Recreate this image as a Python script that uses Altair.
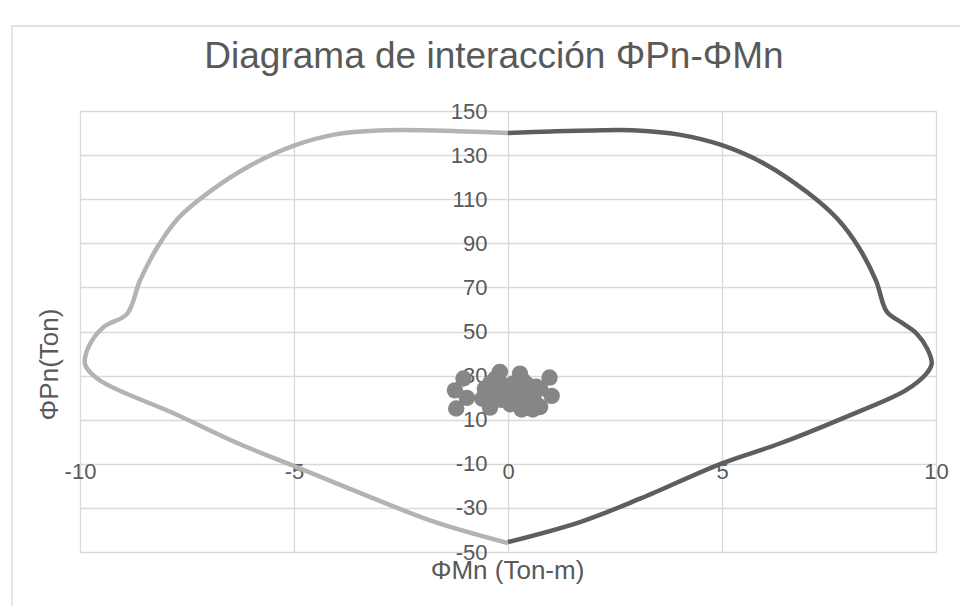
import altair as alt
import pandas as pd

# ---- data ----
right_M = [0, 1, 2, 3, 4, 5, 6, 7, 7.7, 8.2, 8.6, 8.85, 9.2, 9.55, 9.8, 9.9, 9.78, 9.3, 7.9, 6.35, 5.0, 3.1, 1.7, 0]
right_P = [140, 140.7, 141.2, 141.2, 139.3, 134.5, 126, 113, 101, 88, 73, 59, 54, 49, 42, 35.5, 31, 23.4, 11.3, -0.8, -9.8, -25.7, -36.3, -45.5]

left_M = [0, -1, -2, -3, -4, -5, -6, -7, -7.7, -8.2, -8.6, -8.9, -9.45, -9.8, -9.88, -9.55, -7.8, -6.3, -5.0, -3.1, -1.7, 0]
left_P = [140, 140.7, 141.3, 141.2, 139.5, 134.3, 125.5, 113, 101.5, 88, 73, 58, 52, 43, 35, 28, 12.8, -0.8, -11, -26, -36.5, -46]

pts_M = [-1.24, -1.04, -0.96, -1.21, -0.19, 0.28, 0.97, 1.02, 0.75, 0.58, 0.32, -0.42, -0.54,
         0.75, 0.47, 0.12, -0.03, 0.2, -0.26, 0.44, -0.42, -0.12, 0.09, 0.58,
         -0.35, 0.05, 0.3, 0.62, -0.15, 0.15, 0.36, -0.3, 0.66, -0.6]
pts_P = [23.3, 28.7, 19.9, 15.1, 31.7, 30.9, 29.1, 20.8, 15.8, 14.6, 14.6, 15.5, 24.1,
         24.1, 25.6, 26.4, 20.3, 18.8, 20.3, 18.1, 26.4, 25.6, 22.6, 21.1,
         22.0, 17.0, 22.0, 18.2, 19.0, 24.0, 27.5, 28.6, 25.0, 19.5]

x_ticks = [-10, -5, 0, 5, 10]
y_ticks = [-50, -30, -10, 10, 30, 50, 70, 90, 110, 130, 150]

title_text = "Diagrama de interacción ΦPn-ΦMn"
x_title = "ΦMn (Ton-m)"
y_title = "ΦPn(Ton)"

# ---- table ----
rows = []
for i, (m, p) in enumerate(zip(left_M, left_P)):
    rows.append({"M": m, "P": p, "kind": "left", "ord": i})
for i, (m, p) in enumerate(zip(right_M, right_P)):
    rows.append({"M": m, "P": p, "kind": "right", "ord": i})
for i, (m, p) in enumerate(zip(pts_M, pts_P)):
    rows.append({"M": m, "P": p, "kind": "pts", "ord": i})
df = pd.DataFrame(rows)

W = 856
H = 441
FONT = "Liberation Sans"
TXT = "#595959"
GRID = "#d9d9d9"

x_enc = alt.X(
    "M:Q",
    scale=alt.Scale(domain=[-10, 10], nice=False, zero=False),
    axis=alt.Axis(
        values=x_ticks, grid=True, gridColor=GRID, gridWidth=1.3,
        domain=False, ticks=False, labelFlush=False, labelOverlap=False,
        labelExpr="toString(datum.value)",
        labelFont=FONT, labelFontSize=22, labelColor=TXT, labelPadding=-2,
        offset=-(H * 40 / 200),
        title=x_title, titleFont=FONT, titleFontSize=26, titleColor=TXT,
        titleFontWeight="normal", titleX=W / 2 - 1, titleY=107,
        titleAlign="center", titleBaseline="middle",
    ),
)
y_enc = alt.Y(
    "P:Q",
    scale=alt.Scale(domain=[-50, 150], nice=False, zero=False),
    axis=alt.Axis(
        values=y_ticks, grid=True, gridColor=GRID, gridWidth=1.3,
        domain=False, ticks=False, labelFlush=False, labelOverlap=False,
        labelExpr="toString(datum.value)",
        labelFont=FONT, labelFontSize=22, labelColor=TXT, labelPadding=21,
        labelAlign="right", labelBaseline="middle",
        offset=-(W / 2),
        title=y_title, titleFont=FONT, titleFontSize=26, titleColor=TXT,
        titleFontWeight="normal", titleX=-459, titleY=253, titleAngle=270,
        titleAlign="center", titleBaseline="middle",
    ),
)

base = alt.Chart(df).encode(x=x_enc, y=y_enc)

left_line = base.transform_filter(alt.datum.kind == "left").mark_line(
    color="#b3b3b3", strokeWidth=4.5, interpolate="catmull-rom"
).encode(order="ord:Q")
right_line = base.transform_filter(alt.datum.kind == "right").mark_line(
    color="#5e5e5e", strokeWidth=4.5, interpolate="catmull-rom"
).encode(order="ord:Q")
points = base.transform_filter(alt.datum.kind == "pts").mark_circle(
    color="#868686", size=270, opacity=1
)

one = pd.DataFrame({"a": [0]})
frame = alt.Chart(one).mark_rect(
    fill=None, stroke=GRID, strokeWidth=1.3
).encode(
    x=alt.value(-68), x2=alt.value(W + 60),
    y=alt.value(-85), y2=alt.value(H + 120),
)
title_mark = alt.Chart(one).mark_text(
    font=FONT, fontSize=37, color=TXT, align="center", baseline="alphabetic"
).encode(
    x=alt.value(W / 2 - 14), y=alt.value(-43), text=alt.value(title_text)
)

chart = alt.layer(frame, left_line, right_line, points, title_mark).properties(
    width=W, height=H,
    autosize=alt.AutoSizeParams(type="none"),
    padding={"left": 72, "top": 103, "right": 24, "bottom": 54},
).configure_view(stroke=None)

chart.save("out.html", embed_options={"renderer": "svg", "actions": False})
